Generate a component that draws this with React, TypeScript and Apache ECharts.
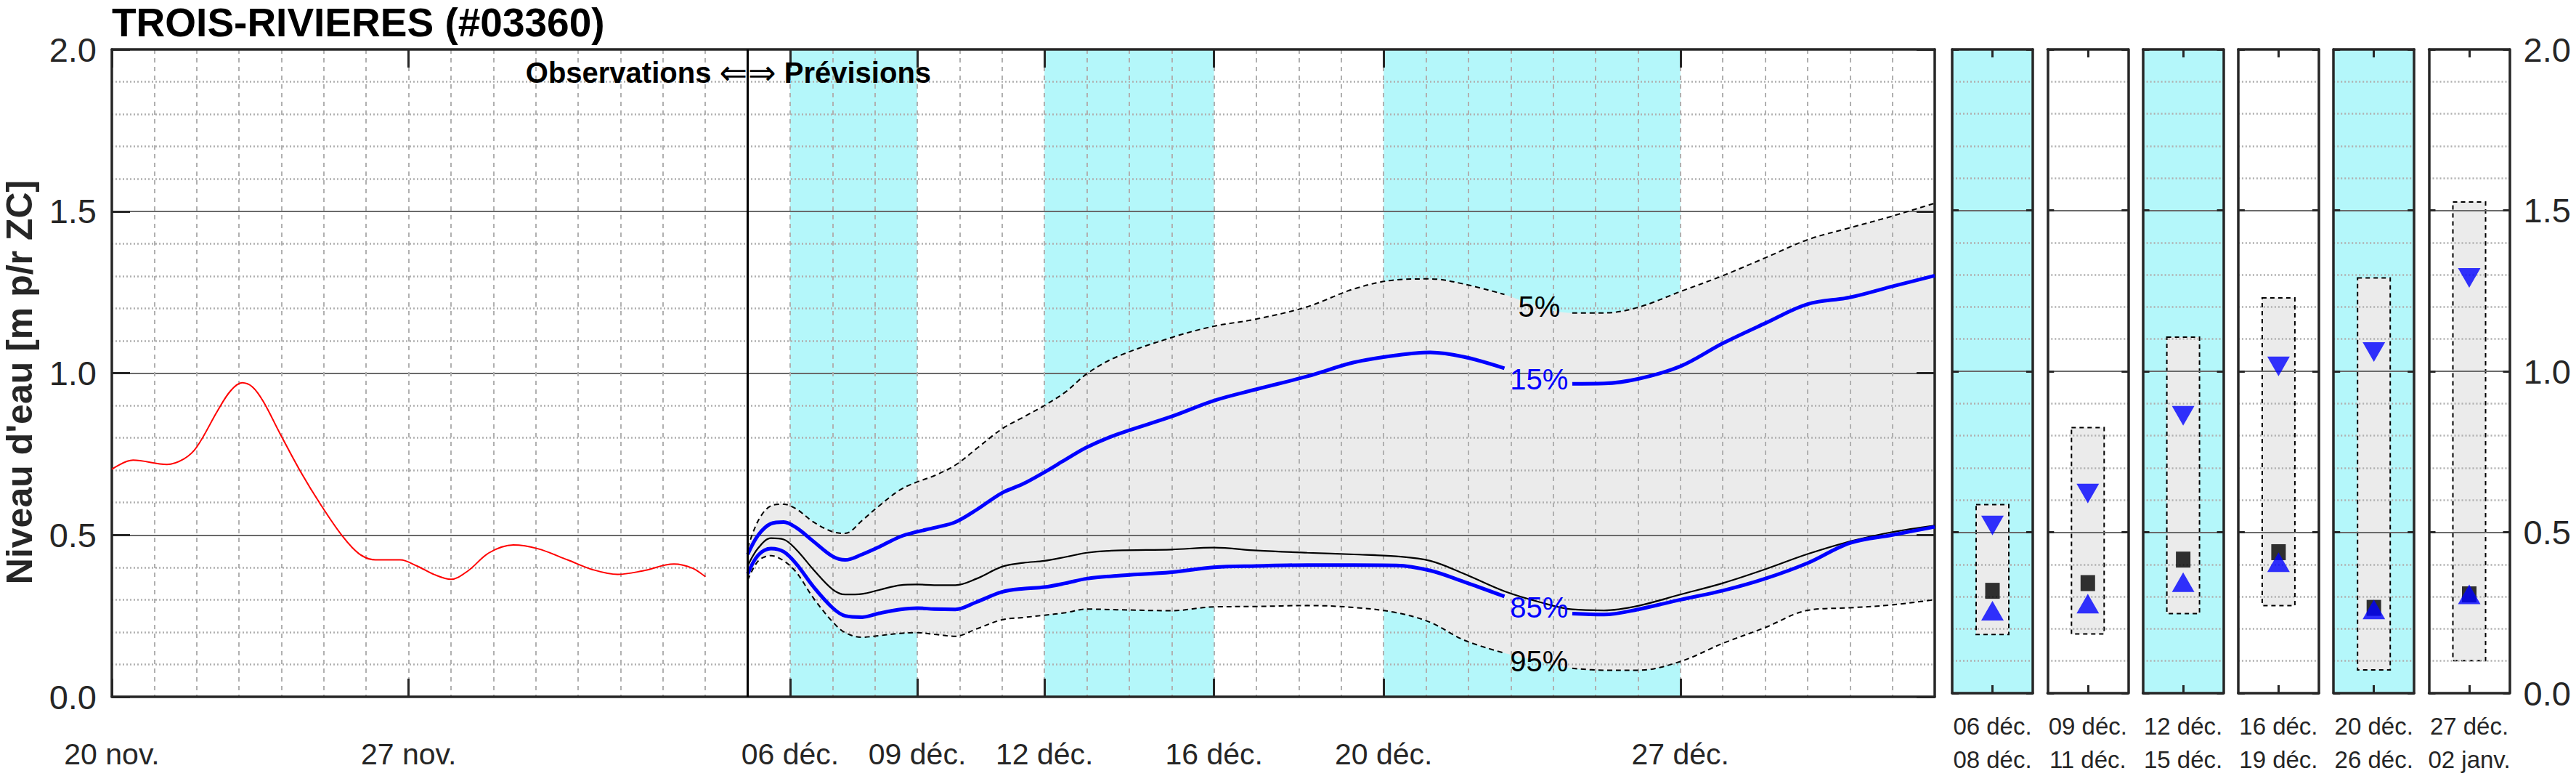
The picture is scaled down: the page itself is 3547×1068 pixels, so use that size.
import React, { useEffect, useRef } from 'react';
import * as echarts from 'echarts';

// ---------------- texts ----------------
const TITLE = 'TROIS-RIVIERES (#03360)';
const Y_TITLE = "Niveau d'eau [m p/r ZC]";
const OBS_TEXT = 'Observations';
const FC_TEXT = 'Prévisions';

// ---------------- main x axis (days after 20 nov.) ----------------
const X_MIN = 0;
const X_MAX = 43;
const MAJOR_DAYS = [0, 7, 16, 19, 22, 26, 30, 37];
const MAJOR_LABELS = ['20 nov.', '27 nov.', '06 déc.', '09 déc.', '12 déc.', '16 déc.', '20 déc.', '27 déc.'];
const FORECAST_START_DAY = 15;
const SHADED_FROM = [16, 22, 30];
const SHADED_TO = [19, 26, 37];

// ---------------- y axis ----------------
const Y_MIN = 0;
const Y_MAX = 2;
const Y_STEP = 0.5;

// ---------------- observations ----------------
const OBS_DAYS = [0, 0.5, 1.3, 1.7, 2.0, 2.5, 2.8, 3.07, 3.32, 3.57, 3.96, 4.45, 4.94, 5.43, 5.83, 6.22, 6.8, 7.2, 7.6, 8.0, 8.4, 8.9, 9.47, 10.06, 10.75, 11.34, 11.93, 12.52, 13.26, 13.7, 14.0];
const OBS_LEVEL = [0.703, 0.731, 0.718, 0.735, 0.771, 0.885, 0.945, 0.97, 0.957, 0.913, 0.815, 0.696, 0.591, 0.498, 0.442, 0.423, 0.423, 0.404, 0.378, 0.363, 0.389, 0.445, 0.469, 0.457, 0.423, 0.393, 0.378, 0.389, 0.41, 0.397, 0.371];

// ---------------- forecast percentiles ----------------
const FC_DAYS = [15.0, 15.25, 15.55, 15.85, 16.15, 16.55, 17.0, 17.3, 17.7, 18.1, 18.6, 19.0, 19.4, 19.9, 20.4, 21.0, 21.5, 22.0, 22.5, 23.0, 23.7, 25.0, 26.0, 27.0, 28.2, 29.3, 30.3, 31.1, 31.9, 32.85, 33.67, 34.45, 35.2, 36.0, 37.0, 38.0, 39.0, 40.0, 41.0, 42.0, 43.0];
const P5 = [0.46, 0.545, 0.59, 0.595, 0.58, 0.54, 0.51, 0.505, 0.545, 0.59, 0.64, 0.664, 0.683, 0.716, 0.767, 0.828, 0.864, 0.9, 0.942, 0.998, 1.05, 1.11, 1.145, 1.167, 1.205, 1.26, 1.288, 1.291, 1.275, 1.243, 1.205, 1.186, 1.186, 1.203, 1.252, 1.301, 1.356, 1.412, 1.449, 1.485, 1.525];
const P15 = [0.44, 0.5, 0.535, 0.54, 0.522, 0.48, 0.434, 0.423, 0.44, 0.463, 0.495, 0.51, 0.522, 0.54, 0.578, 0.63, 0.658, 0.694, 0.733, 0.771, 0.81, 0.866, 0.915, 0.95, 0.99, 1.033, 1.055, 1.064, 1.05, 1.015, 0.985, 0.967, 0.968, 0.982, 1.021, 1.092, 1.154, 1.213, 1.234, 1.268, 1.301];
const P50 = [0.405, 0.46, 0.49, 0.486, 0.454, 0.393, 0.332, 0.316, 0.318, 0.33, 0.345, 0.347, 0.345, 0.345, 0.365, 0.402, 0.414, 0.42, 0.432, 0.445, 0.452, 0.455, 0.461, 0.452, 0.445, 0.44, 0.434, 0.42, 0.38, 0.326, 0.293, 0.27, 0.267, 0.281, 0.316, 0.351, 0.394, 0.441, 0.48, 0.509, 0.529];
const P85 = [0.38, 0.438, 0.458, 0.448, 0.41, 0.34, 0.275, 0.25, 0.246, 0.258, 0.27, 0.274, 0.271, 0.27, 0.293, 0.324, 0.334, 0.339, 0.351, 0.365, 0.374, 0.385, 0.4, 0.404, 0.407, 0.407, 0.406, 0.39, 0.355, 0.31, 0.28, 0.257, 0.254, 0.27, 0.3, 0.328, 0.365, 0.413, 0.475, 0.5, 0.525];
const P95 = [0.36, 0.42, 0.436, 0.42, 0.384, 0.305, 0.232, 0.198, 0.184, 0.189, 0.196, 0.198, 0.193, 0.187, 0.21, 0.238, 0.245, 0.252, 0.26, 0.271, 0.269, 0.266, 0.278, 0.279, 0.282, 0.276, 0.26, 0.23, 0.175, 0.135, 0.11, 0.088, 0.082, 0.082, 0.109, 0.165, 0.214, 0.267, 0.275, 0.284, 0.3];

// percentile curve labels (placed in a gap of the curves)
const PCT_NAMES = ['5%', '15%', '85%', '95%'];
const PCT_LABEL_DAY = 33.67;
const PCT_LABEL_LEVEL = [1.206, 0.982, 0.275, 0.109];

// ---------------- period panels ----------------
const PANEL_FROM = ['06 déc.', '09 déc.', '12 déc.', '16 déc.', '20 déc.', '27 déc.'];
const PANEL_TO = ['08 déc.', '11 déc.', '15 déc.', '19 déc.', '26 déc.', '02 janv.'];
const PANEL_SHADED = [true, false, true, false, true, false];
const PANEL_HIGH = [0.586, 0.825, 1.106, 1.228, 1.29, 1.526];
const PANEL_LOW = [0.182, 0.184, 0.247, 0.272, 0.072, 0.101];
const PANEL_P15 = [0.521, 0.62, 0.862, 1.015, 1.06, 1.29];
const PANEL_MED = [0.318, 0.342, 0.415, 0.438, 0.265, 0.307];
const PANEL_P85 = [0.256, 0.278, 0.345, 0.407, 0.26, 0.307];

// ---------------- styles / layout ----------------
const FONT = "'Liberation Sans', Arial, Helvetica, sans-serif";
const TEXT = '#262626';
const AXIS = '#262626';
const CYAN = '#b4f7fa';
const BAND = '#ebebeb';
const BLUE = '#0000ff';
const RED = '#ff0000';
const GRID_MINOR = '#b0b0b0';
const GRID_MAJOR = '#6a6a6a';

const PLOT_TOP = 68;
const PLOT_H = 891;
const MAIN_LEFT = 154;
const MAIN_W = 2510;
const PANEL_LEFT = 2688;
const PANEL_STEP = 131.3;
const PANEL_W = 111;
const SMOOTH = 0.35;

const AXLINE = { show: true, onZero: false, lineStyle: { color: AXIS, width: 3.5 } };
const tickStyle = { color: AXIS, width: 3 };
const fmtY = (v: number) => v.toFixed(1);

function buildOption() {
  const grid: any[] = [];
  const xAxis: any[] = [];
  const yAxis: any[] = [];
  const series: any[] = [];

  // ---------- main plot ----------
  grid.push({ left: MAIN_LEFT, top: PLOT_TOP, width: MAIN_W, height: PLOT_H, show: false });
  xAxis.push({
    gridIndex: 0, type: 'value', min: X_MIN, max: X_MAX, interval: 1, position: 'bottom', z: 3,
    axisLine: AXLINE, axisTick: { show: false },
    axisLabel: {
      show: true, fontSize: 41, color: TEXT, fontFamily: FONT, margin: 58, showMinLabel: true, showMaxLabel: true,
      formatter: (v: number) => { const k = MAJOR_DAYS.indexOf(Math.round(v)); return k >= 0 ? MAJOR_LABELS[k] : ''; },
    },
    splitLine: { show: true, lineStyle: { color: GRID_MINOR, width: 2, type: [6, 6] } },
  });
  xAxis.push({
    gridIndex: 0, type: 'value', min: X_MIN, max: X_MAX, position: 'bottom', z: 3,
    axisLine: { show: false },
    axisTick: { show: true, inside: true, length: 25, customValues: MAJOR_DAYS, lineStyle: tickStyle },
    axisLabel: { show: false }, splitLine: { show: false },
  });
  xAxis.push({
    gridIndex: 0, type: 'value', min: X_MIN, max: X_MAX, position: 'top', z: 3,
    axisLine: AXLINE,
    axisTick: { show: true, inside: true, length: 25, customValues: MAJOR_DAYS, lineStyle: tickStyle },
    axisLabel: { show: false }, splitLine: { show: false },
  });
  yAxis.push({
    gridIndex: 0, type: 'value', min: Y_MIN, max: Y_MAX, interval: Y_STEP, position: 'left', z: 3,
    axisLine: AXLINE,
    axisTick: { show: true, inside: true, length: 25, lineStyle: tickStyle },
    axisLabel: { show: true, formatter: fmtY, fontSize: 47, color: TEXT, fontFamily: FONT, margin: 21 },
    splitLine: { show: true, lineStyle: { color: GRID_MAJOR, width: 2 } },
    minorTick: { show: false, splitNumber: 5 },
    minorSplitLine: { show: true, lineStyle: { color: GRID_MINOR, width: 2.5, type: [2, 3] } },
  });
  yAxis.push({
    gridIndex: 0, type: 'value', min: Y_MIN, max: Y_MAX, interval: Y_STEP, position: 'right', z: 3,
    axisLine: AXLINE,
    axisTick: { show: true, inside: true, length: 25, lineStyle: tickStyle },
    axisLabel: { show: false }, splitLine: { show: false },
  });

  // cyan shaded periods
  series.push({
    type: 'custom', xAxisIndex: 0, yAxisIndex: 0, z: 1, silent: true,
    data: SHADED_FROM.map((f, i) => [f, SHADED_TO[i]]),
    encode: { x: [0, 1] },
    renderItem: (_p: any, api: any) => {
      const a = api.coord([api.value(0), Y_MAX]);
      const b = api.coord([api.value(1), Y_MIN]);
      return { type: 'rect', shape: { x: a[0], y: a[1], width: b[0] - a[0], height: b[1] - a[1] }, style: { fill: CYAN } };
    },
  });

  // 5%-95% band: stacked on the level dimension (level first, day second)
  series.push({
    type: 'line', xAxisIndex: 0, yAxisIndex: 0, stack: 'band', z: 2, silent: true, smooth: SMOOTH, symbol: 'none',
    encode: { x: 1, y: 0 },
    data: FC_DAYS.map((d, i) => [P95[i], d]),
    lineStyle: { width: 0, opacity: 0 },
  });
  series.push({
    type: 'line', xAxisIndex: 0, yAxisIndex: 0, stack: 'band', z: 2, silent: true, smooth: SMOOTH, symbol: 'none',
    encode: { x: 1, y: 0 },
    data: FC_DAYS.map((d, i) => [+(P5[i] - P95[i]).toFixed(4), d]),
    lineStyle: { width: 0, opacity: 0 },
    areaStyle: { color: BAND, opacity: 1 },
  });

  const gapped = (vals: number[]) => FC_DAYS.map((d, i) => [d, d === PCT_LABEL_DAY ? null : vals[i]]);
  const line = (data: any[], color: string, width: number, type: any, extra: any = {}) => ({
    type: 'line', xAxisIndex: 0, yAxisIndex: 0, z: 4, silent: true, smooth: SMOOTH, symbol: 'none',
    connectNulls: false, data, lineStyle: { color, width, type }, ...extra,
  });
  const pctLabel = (k: number, color: string) => ({
    markPoint: {
      symbol: 'circle', symbolSize: 1, silent: true, itemStyle: { color: 'rgba(0,0,0,0)' },
      label: { show: true, position: 'inside', color, fontSize: 40, fontFamily: FONT, formatter: PCT_NAMES[k] },
      data: [{ coord: [PCT_LABEL_DAY, PCT_LABEL_LEVEL[k]] }],
    },
  });
  const richObs = {
    b: { fontSize: 40, fontWeight: 'bold', color: '#000', fontFamily: FONT },
    s: { fontSize: 40, color: '#000', fontFamily: FONT },
    a: { fontSize: 46, color: '#000', fontFamily: "'DejaVu Sans', sans-serif" },
  };

  series.push(line(gapped(P5), '#000', 2, [7, 5], pctLabel(0, '#000')));
  series.push(line(gapped(P95), '#000', 2, [7, 5], pctLabel(3, '#000')));
  series.push(line(FC_DAYS.map((d, i) => [d, P50[i]]), '#000', 2.2, 'solid', {
    markLine: {
      silent: true, symbol: ['none', 'none'], label: { show: false },
      lineStyle: { color: '#000', width: 3, type: 'solid' },
      data: [{ xAxis: FORECAST_START_DAY }],
    },
    markPoint: {
      symbol: 'circle', symbolSize: 1, silent: true, itemStyle: { color: 'rgba(0,0,0,0)' },
      data: [
        {
          coord: [FORECAST_START_DAY, 1.928],
          label: { show: true, position: 'left', distance: 0, formatter: `{b|${OBS_TEXT}}{s| }{a|⇐}`, rich: richObs },
        },
        {
          coord: [FORECAST_START_DAY, 1.928],
          label: { show: true, position: 'right', distance: 0, formatter: `{a|⇒}{s| }{b|${FC_TEXT}}`, rich: richObs },
        },
      ],
    },
  }));
  series.push(line(gapped(P15), BLUE, 5, 'solid', pctLabel(1, BLUE)));
  series.push(line(gapped(P85), BLUE, 5, 'solid', pctLabel(2, BLUE)));
  series.push(line(OBS_DAYS.map((d, i) => [d, OBS_LEVEL[i]]), RED, 2, 'solid'));

  // ---------- period panels ----------
  for (let i = 0; i < PANEL_FROM.length; i++) {
    const g = i + 1;
    grid.push({
      left: PANEL_LEFT + i * PANEL_STEP, top: PLOT_TOP, width: PANEL_W, height: PLOT_H,
      show: PANEL_SHADED[i], backgroundColor: CYAN, borderWidth: 0,
    });
    const xb = xAxis.length;
    xAxis.push({
      gridIndex: g, type: 'category', data: [PANEL_FROM[i]], boundaryGap: true, position: 'bottom', z: 3,
      axisLine: AXLINE,
      axisTick: { show: true, inside: true, alignWithLabel: true, length: 11, lineStyle: tickStyle },
      axisLabel: {
        show: true, interval: 0, fontSize: 33, lineHeight: 46, margin: 22, color: TEXT, fontFamily: FONT,
        formatter: () => `${PANEL_FROM[i]}\n${PANEL_TO[i]}`,
      },
      splitLine: { show: false },
    });
    xAxis.push({
      gridIndex: g, type: 'category', data: [PANEL_FROM[i]], boundaryGap: true, position: 'top', z: 3,
      axisLine: AXLINE,
      axisTick: { show: true, inside: true, alignWithLabel: true, length: 11, lineStyle: tickStyle },
      axisLabel: { show: false }, splitLine: { show: false },
    });
    const yl = yAxis.length;
    yAxis.push({
      gridIndex: g, type: 'value', min: Y_MIN, max: Y_MAX, interval: Y_STEP, position: 'left', z: 3,
      axisLine: AXLINE,
      axisTick: { show: true, inside: true, length: 9, lineStyle: tickStyle },
      axisLabel: { show: false },
      splitLine: { show: true, lineStyle: { color: GRID_MAJOR, width: 2 } },
      minorTick: { show: false, splitNumber: 5 },
      minorSplitLine: { show: true, lineStyle: { color: GRID_MINOR, width: 2.5, type: [2, 3] } },
    });
    yAxis.push({
      gridIndex: g, type: 'value', min: Y_MIN, max: Y_MAX, interval: Y_STEP, position: 'right', z: 3,
      axisLine: AXLINE,
      axisTick: { show: true, inside: true, length: 9, lineStyle: tickStyle },
      axisLabel: { show: i === PANEL_FROM.length - 1, formatter: fmtY, fontSize: 47, color: TEXT, fontFamily: FONT, margin: 19 },
      splitLine: { show: false },
    });

    series.push({
      type: 'custom', xAxisIndex: xb, yAxisIndex: yl, z: 2, silent: true,
      data: [[0, PANEL_LOW[i], PANEL_HIGH[i]]],
      encode: { x: 0, y: [1, 2] },
      renderItem: (_p: any, api: any) => {
        const top = api.coord([api.value(0), api.value(2)]);
        const bot = api.coord([api.value(0), api.value(1)]);
        return {
          type: 'rect',
          shape: { x: top[0] - 22.5, y: top[1], width: 45, height: bot[1] - top[1] },
          style: { fill: BAND, stroke: '#000', lineWidth: 2, lineDash: [6, 5] },
        };
      },
    });
    series.push({
      type: 'scatter', xAxisIndex: xb, yAxisIndex: yl, z: 4, silent: true,
      data: [[0, PANEL_P15[i]]], symbol: 'triangle', symbolRotate: 180, symbolSize: [31, 27],
      itemStyle: { color: BLUE },
    });
    series.push({
      type: 'scatter', xAxisIndex: xb, yAxisIndex: yl, z: 4, silent: true,
      data: [[0, PANEL_MED[i]]], symbol: 'rect', symbolSize: [20, 22],
      itemStyle: { color: '#000' },
    });
    series.push({
      type: 'scatter', xAxisIndex: xb, yAxisIndex: yl, z: 5, silent: true,
      data: [[0, PANEL_P85[i]]], symbol: 'triangle', symbolSize: [31, 27],
      itemStyle: { color: BLUE },
    });
  }

  return {
    animation: false,
    backgroundColor: '#ffffff',
    textStyle: { fontFamily: FONT },
    grid, xAxis, yAxis, series,
    graphic: [
      {
        type: 'text', x: MAIN_LEFT, y: 31, silent: true,
        style: { text: TITLE, fontSize: 55, fontWeight: 'bold', fontFamily: FONT, fill: '#000', align: 'left', verticalAlign: 'middle', textAlign: 'left', textVerticalAlign: 'middle' },
      },
      {
        type: 'text', x: 27, y: 526, rotation: Math.PI / 2, silent: true,
        style: { text: Y_TITLE, fontSize: 50, fontWeight: 'bold', fontFamily: FONT, fill: TEXT, align: 'center', verticalAlign: 'middle', textAlign: 'center', textVerticalAlign: 'middle' },
      },
    ],
  };
}

export default function App() {
  const ref = useRef<HTMLDivElement>(null);
  useEffect(() => {
    if (!ref.current) return;
    const chart = echarts.init(ref.current, undefined, { renderer: 'svg' });
    chart.setOption(buildOption() as any);
    return () => chart.dispose();
  }, []);
  return <div ref={ref} style={{ position: 'fixed', left: 0, top: 0, width: 3547, height: 1068, background: '#fff' }} />;
}
